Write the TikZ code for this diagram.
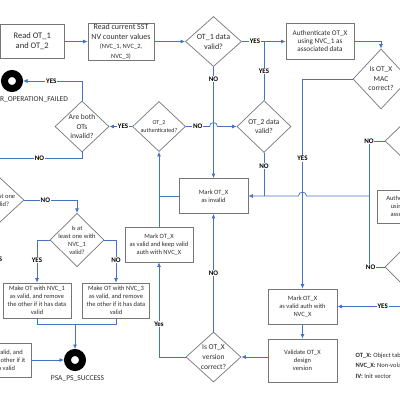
\documentclass[tikz,border=0pt]{standalone}
\usepackage{fontspec}
\setmainfont{Carlito}
\usetikzlibrary{shapes.geometric,arrows.meta}

\definecolor{flowblue}{RGB}{68,114,196}
\definecolor{boxgray}{RGB}{118,118,118}
\definecolor{txtgray}{RGB}{45,45,45}
\newcommand{\fsz}[2]{\fontsize{#1}{#2}\selectfont}

\begin{document}
\begin{tikzpicture}[x=1pt,y=-1pt]
\useasboundingbox (0,0) rectangle (400,400);
\clip (0,0) rectangle (400,400);

% process steps
\begin{scope}[every node/.style={rectangle,draw=boxgray,line width=0.7pt,text=txtgray,
              align=center,inner sep=1pt,minimum width=68pt,minimum height=35pt,
              font=\fsz{6.5}{8}}]
    \node[minimum width=63.5pt,minimum height=34pt,font=\fsz{8.5}{10}] (ReadOT) at (32.25,41.5) {Read OT\_1\\and OT\_2};
    \node[minimum width=66pt,minimum height=34pt,font=\fsz{8}{9.5}] (ReadNV) at (121,41.5)
        {Read current SST\\NV counter values\\\fsz{6.5}{8}(NVC\_1, NVC\_2,\\\fsz{6.5}{8}NVC\_3)};
    \node[minimum height=36pt,font=\fsz{7.2}{8}] (AuthOne) at (320,41.5) {Authenticate OT\_X\\using NVC\_1 as\\associated data};
    \node[minimum width=69pt] (MarkBad) at (213.5,196) {Mark OT\_X\\as invalid};
    \node (MarkKeep) at (159,244.5) {Mark OT\_X\\as valid and keep valid\\auth with NVC\_X};
    \node[minimum width=69pt] (MarkGood) at (302.5,306.5) {Mark OT\_X\\as valid auth with\\NVC\_X};
    \node[minimum width=69pt,minimum height=43pt] (CheckVer) at (302.5,360.5) {Validate OT\_X\\design\\version};
    \node (MakeOne) at (37,300.5) {Make OT with NVC\_1\\as valid, and remove\\the other if it has data\\valid};
    \node[minimum width=67pt] (MakeThree) at (116,300.5) {Make OT with NVC\_3\\as valid, and remove\\the other if it has data\\valid};
    \node[minimum height=34pt] (MakeTwo) at (-3,360) {NVC\_2 as valid, and\\remove the other if it\\has data valid};
    \node[minimum height=33pt] (AuthTwo) at (411,206.5) {Authenticate OT\_X\\using NVC\_2 as\\associated data};
\end{scope}

% decisions
\begin{scope}[every node/.style={diamond,draw=boxgray,line width=0.7pt,text=txtgray,
              align=center,inner sep=-3pt,minimum width=54pt,minimum height=50pt,
              font=\fsz{7.5}{9.5}}]
    \node[minimum width=56pt,font=\fsz{8}{10.5}] (OTOneOK) at (213.5,41.5) {OT\_1 data\\valid?};
    \node[minimum height=52pt] (OTTwoOK) at (264,126.5) {OT\_2 data\\valid?};
    \node[minimum width=53pt,font=\fsz{6}{8}] (OTTwoAuth) at (159,126.5) {OT\_2\\authenticated?};
    \node[minimum height=51pt] (BothBad) at (82,126.5) {Are both\\OTs\\invalid?};
    \node[font=\fsz{6.5}{8}] (AnyOne) at (77,240) {Is at\\least one with\\NVC\_1\\valid?};
    \node[font=\fsz{6.5}{8}] (LeftQ) at (-3,200) {Is at least one\\OT valid?};
    \node[minimum width=56pt,minimum height=60pt] (MACOK) at (381,79) {Is OT\_X\\MAC\\correct?};
    \node[minimum height=52pt,font=\fsz{6.5}{8}] (RightQ) at (412,141) {Is OT\_X\\MAC\\correct?};
    \node[minimum width=56pt,minimum height=56pt] (MACTwo) at (413,267) {Is OT\_X\\MAC\\correct?};
    \node[minimum width=55pt,font=\fsz{7.5}{10}] (VerOK) at (213.5,357) {Is OT\_X\\version\\correct?};
\end{scope}

% terminals
\begin{scope}[every node/.style={circle,draw=black,line width=7pt,minimum size=15pt,inner sep=0pt}]
    \node (Fail) at (12,81) {};
    \node (Done) at (75,360) {};
\end{scope}
\node[font=\fsz{7.5}{9},text=txtgray,anchor=east] (FailTxt) at (71.5,99.5) {PSA\_ERROR\_OPERATION\_FAILED};
\node[font=\fsz{7.5}{9},text=txtgray] (DoneTxt) at (77.5,379) {PSA\_PS\_SUCCESS};

% legend
\begin{scope}[every node/.style={anchor=west,inner sep=0pt,font=\fsz{6.5}{8},text=txtgray}]
    \node (KeyOT) at (355.5,356) {\textbf{OT\_X:} Object table};
    \node (KeyNVC) at (355.5,366) {\textbf{NVC\_X:} Non-volatile counter};
    \node (KeyIV) at (355.5,376) {\textbf{IV:} Init vector};
\end{scope}

% connectors
\coordinate (NoJoin) at (369,196);
\coordinate (Merge) at (75,324);
\coordinate (HopA) at (MarkBad.north |- OTTwoAuth.east);
\coordinate (HopB) at (MarkGood.north |- MarkBad.east);
\begin{scope}[draw=flowblue,line width=0.75pt,>={Latex[length=4.5pt,width=4pt]},
              every node/.style={fill=white,inner sep=0.7pt,font=\fsz{7}{8}\bfseries,text=black}]
    \draw[->] (ReadOT.east) -- (ReadNV.west);
    \draw[->] (ReadNV.east) -- (OTOneOK.west);
    \draw[->] (OTOneOK.east) -- node[pos=0.3]{YES} (AuthOne.west);
    \draw[->] (AuthOne.east) -| (MACOK.north);
    \draw (OTTwoOK.north) -- node{YES} (OTTwoOK.north |- AuthOne.west);
    \draw[->] (OTOneOK.south) -- node[pos=0.11]{NO} (MarkBad.north);

    \draw[->] (OTTwoAuth.west) -- node[pos=0.4]{YES} (BothBad.east);
    \draw[->] (OTTwoAuth.east) -- node{NO} ([xshift=-4pt]HopA) arc (180:0:4pt) -- (OTTwoOK.west);
    \draw (OTTwoOK.south) -- node[pos=0.3]{NO} (OTTwoOK.south |- MarkBad.east);

    \draw (RightQ.west) -| node[pos=0.5]{NO} (NoJoin);
    \draw (MACTwo.west) -| node[pos=0.45]{NO} (NoJoin);
    \draw[->] (NoJoin) -- ([xshift=4pt]HopB) arc (0:180:4pt) -- (MarkBad.east);
    \draw[->] (MACOK.west) -| node[pos=0.69]{YES} (MarkGood.north);
    \draw[->] (MACTwo.south) |- node[pos=0.7]{YES} (MarkGood.east);

    \draw (MarkBad.west) -- (MarkBad.west -| MarkKeep.north);
    \draw[->] (MarkKeep.north) -- (OTTwoAuth.south);
    \draw[->] (VerOK.west) -| node[pos=0.675]{Yes} (MarkKeep.south);
    \draw[->] (VerOK.north) -- node{NO} (MarkBad.south);
    \draw[->] (MarkGood.south) -- (CheckVer.north);
    \draw[->] (CheckVer.west |- VerOK.east) -- (VerOK.east);

    \draw[->] (BothBad.north) |- node[pos=0.76]{YES} (Fail.east);
    \draw[->] (BothBad.south) -- ++(0,6) -| node[pos=0.25]{NO} (LeftQ.north);
    \draw[->] (LeftQ.east) -| node[pos=0.2]{NO} (AnyOne.north);
    \draw[->] (LeftQ.south) -- node[pos=0.29]{YES} (MakeTwo.north);
    \draw[->] (AnyOne.west) -| node[pos=0.74]{YES} (MakeOne.north);
    \draw[->] (AnyOne.east) -| node[pos=0.74]{NO} (MakeThree.north);
    \draw (MakeOne.south) |- (Merge);
    \draw (MakeThree.south) |- (Merge);
    \draw[->] (Merge) -- (Done.north);
    \draw[->] (MakeTwo.east) -- (Done.west);
\end{scope}
\end{tikzpicture}
\end{document}
